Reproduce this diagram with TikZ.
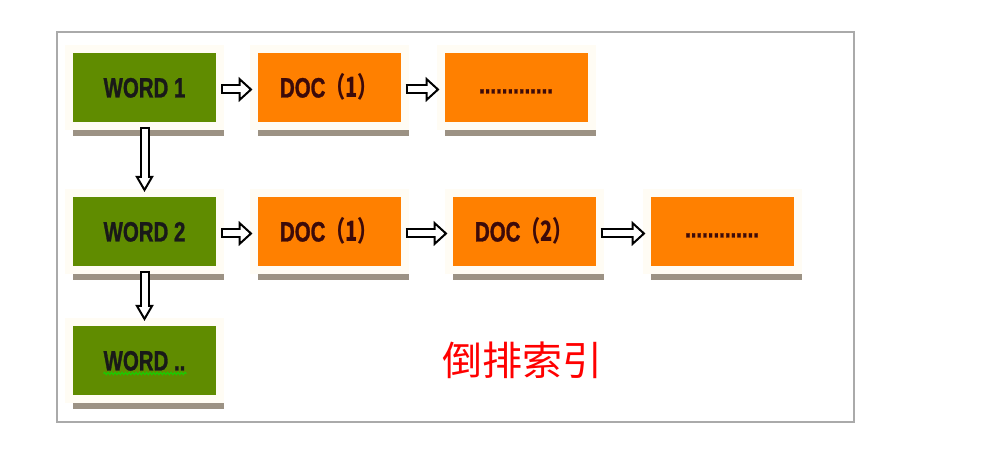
\documentclass[tikz,border=0pt]{standalone}
\usepackage{fontspec}
\usepackage{tikz}
\usetikzlibrary{arrows.meta,shadows,decorations.pathmorphing}
\newfontfamily\boxfont[FakeStretch=0.73,BoldFeatures={FakeBold=1}]{Liberation Sans}
\newfontfamily\cjkbox[FakeStretch=0.72]{Noto Sans CJK SC}
\newfontfamily\cjk{Noto Sans CJK SC}
\definecolor{wordgreen}{RGB}{96,140,0}
\definecolor{docorange}{RGB}{255,128,0}
\definecolor{cream}{RGB}{255,252,244}
\definecolor{shadowgray}{RGB}{156,146,132}
\definecolor{textbrown}{RGB}{60,10,10}
\definecolor{framegray}{RGB}{170,170,170}
\definecolor{squigglegreen}{RGB}{30,200,0}
\tikzstyle{box}=[rectangle,draw=cream,line width=8pt,minimum width=151pt,minimum height=77pt,inner sep=0pt,
  font=\boxfont\bfseries\fontsize{28}{28}\selectfont,text height=20pt,text depth=0pt,
  drop shadow={shadow xshift=4pt,shadow yshift=-10pt,fill=shadowgray,opacity=1}]
\tikzstyle{wordbox}=[box,fill=wordgreen,text=black!90]
\tikzstyle{docbox}=[box,fill=docorange,text=textbrown]
\tikzstyle{dotbox}=[docbox,text height=12pt]
\tikzstyle{line} = [draw=black, line width=10pt, shorten >=10pt, shorten <=-3pt,
  postaction={draw=white, line width=6pt, shorten >=-3pt, shorten <=-1pt,
    -{Triangle[color=black,fill=white,length=14pt,width=25pt,line width=2pt]}},
  postaction={draw=white, line width=6pt, arrows=-, shorten >=9pt, shorten <=-1pt}]
\tikzstyle{vline} = [draw=black, line width=10pt, shorten >=12pt, shorten <=-3pt,
  postaction={draw=white, line width=6pt, shorten >=-3pt, shorten <=-1pt,
    -{Triangle[color=black,fill=white,length=16pt,width=18pt,line width=2pt]}},
  postaction={draw=white, line width=6pt, arrows=-, shorten >=11pt, shorten <=-1pt}]

\begin{document}
\begin{tikzpicture}[x=1pt,y=1pt]
  \useasboundingbox (0,0) rectangle (994,464);
  % frame
  \draw[framegray,line width=2pt] (57,42) rectangle (854,432);
  % first row
  \node[wordbox] (WORD1) at (144.5,376.5) {WORD 1};
  \node[docbox]  (DOC11) at (329,376.5)   {DOC{\cjkbox （1）}};
  \node[dotbox]  (MORE1) at (516,376.5)   {.............};
  % second row
  \node[wordbox] (WORD2) at (144.5,232.5) {WORD 2};
  \node[docbox]  (DOC21) at (329,232.5)   {DOC{\cjkbox （1）}};
  \node[docbox]  (DOC22) at (524,232.5)   {DOC{\cjkbox （2）}};
  \node[dotbox]  (MORE2) at (722,232.5)   {.............};
  % third row
  \node[wordbox] (WORD3) at (144.5,103.5) {WORD ..};
  \coordinate (wavystart) at ([shift={(-41pt,-13pt)}]WORD3.center);
  \coordinate (wavyend)   at ([shift={(42pt,-13pt)}]WORD3.center);
  \draw[draw=squigglegreen,line width=1.2pt,decorate,decoration={snake,segment length=3.5pt,amplitude=1.2pt}]
    (wavystart) -- (wavyend);
  % arrows
  \path [line] ([yshift=-2pt]WORD1.east) -- ([yshift=-2pt]DOC11.west);
  \path [line] ([yshift=-2pt]DOC11.east) -- ([yshift=-2pt]MORE1.west);
  \path [line] ([yshift=-2pt]WORD2.east) -- ([yshift=-2pt]DOC21.west);
  \path [line] ([yshift=-2pt]DOC21.east) -- ([yshift=-2pt]DOC22.west);
  \path [line] ([yshift=-2pt]DOC22.east) -- ([yshift=-2pt]MORE2.west);
  \path [vline] (WORD1) -- (WORD2);
  \path [vline] (WORD2) -- (WORD3);
  % caption
  \node[text=red,font=\cjk\fontsize{40}{40}\selectfont] (title) at (522,104) {倒排索引};
\end{tikzpicture}
\end{document}
